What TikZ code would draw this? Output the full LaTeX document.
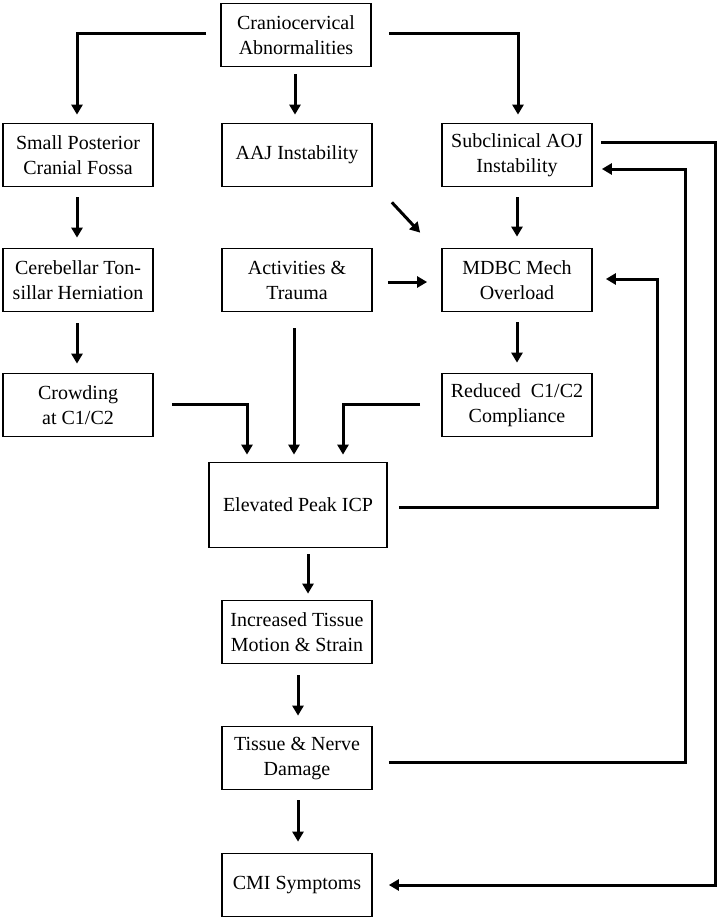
\documentclass[tikz,border=0pt]{standalone}
\usepackage{fontspec}
\setmainfont{Liberation Serif}
\usepackage{tikz}
\usetikzlibrary{positioning,arrows.meta}

\begin{document}
\begin{tikzpicture}[x=1pt,y=-1pt,
	box/.style={draw,line width=1.7pt,minimum width=150pt,minimum height=63pt,inner sep=0pt,align=center,font=\fontsize{20}{25}\selectfont},
	arr/.style={line width=3pt,-{Triangle[length=10pt,width=11pt]}}]
	\useasboundingbox (0,0) rectangle (719,919);

	\node[box] (crano) at (296,35) {Craniocervical\\Abnormalities};
	\node[box] (small) at (78,155) {Small Posterior\\Cranial Fossa};
	\node[box] (aaj) at (297,155) {AAJ Instability};
	\node[box] (subaoj) at (517,155) {Subclinical AOJ\\Instability};
	\node[box] (cereb) at (78,280) {Cerebellar Ton-\\sillar Herniation};
	\node[box] (activ) at (297,280) {Activities \&\\Trauma};
	\node[box] (mdbc) at (517,280) {MDBC Mech\\Overload};
	\node[box] (crowd) at (78,405) {Crowding\\at C1/C2};
	\node[box] (reduced) at (517,405) {Reduced~~C1/C2\\Compliance};
	\node[box,minimum width=178pt,minimum height=85pt] (elev) at (298,505) {Elevated Peak ICP};
	\node[box] (incr) at (297,632) {Increased Tissue\\Motion \& Strain};
	\node[box] (tissue) at (297,758) {Tissue \& Nerve\\Damage};
	\node[box] (cmi) at (297,885) {CMI Symptoms};

	% top level
	\draw[arr] ([xshift=-14pt,yshift=2pt]crano.west) -| ([xshift=-1pt,yshift=8pt]small.north);
	\draw[arr] ([xshift=-1pt,yshift=-7pt]crano.south) -- ([xshift=-2pt,yshift=8pt]aaj.north);
	\draw[arr] ([xshift=17pt,yshift=2pt]crano.east) -| ([xshift=1pt,yshift=8pt]subaoj.north);

	\draw[arr] ([xshift=-1pt,yshift=-10pt]small.south) -- ([xshift=-1pt,yshift=10pt]cereb.north);
	\draw[arr] ([xshift=-1pt,yshift=-11pt]cereb.south) -- ([xshift=-1pt,yshift=9pt]crowd.north);
	\draw[arr] ([shift={(19pt,-15pt)}]aaj.south east) -- ([shift={(-21pt,15pt)}]mdbc.north west);
	\draw[arr] ([yshift=-10pt]subaoj.south) -- ([yshift=11pt]mdbc.north);
	\draw[arr] ([xshift=15pt,yshift=-2pt]activ.east) -- ([xshift=-14pt,yshift=-2pt]mdbc.west);
	\draw[arr] ([yshift=-10pt]mdbc.south) -- ([yshift=10pt]reduced.north);

	% into elevated peak ICP
	\draw[arr] ([xshift=18pt,yshift=1pt]crowd.east) -| ([xshift=-51pt,yshift=7pt]elev.north);
	\draw[arr] ([xshift=-3pt,yshift=-16pt]activ.south) -- ([xshift=-4pt,yshift=7pt]elev.north);
	\draw[arr] ([xshift=-21pt,yshift=1pt]reduced.west) -| ([xshift=45pt,yshift=7pt]elev.north);

	\draw[arr] ([xshift=11pt,yshift=-2pt]elev.east) -| ([xshift=65pt,yshift=1pt]mdbc.east) -- ([xshift=13pt,yshift=1pt]mdbc.east);
	\draw[arr] ([xshift=10pt,yshift=-6pt]elev.south) -- ([xshift=11pt,yshift=6pt]incr.north);
	\draw[arr] ([xshift=1pt,yshift=-11pt]incr.south) -- ([xshift=1pt,yshift=10pt]tissue.north);
	\draw[arr] ([xshift=1pt,yshift=-10pt]tissue.south) -- ([xshift=1pt,yshift=11pt]cmi.north);

	% feedback loops on the right
	\draw[arr] ([xshift=16pt,yshift=-4pt]tissue.east) -| ([xshift=93pt,yshift=-14pt]subaoj.east) -- ([xshift=9pt,yshift=-14pt]subaoj.east);
	\draw[arr] ([xshift=8pt,yshift=13pt]subaoj.east) -| ([xshift=343pt]cmi.east) -- ([xshift=16pt]cmi.east);
\end{tikzpicture}
\end{document}
